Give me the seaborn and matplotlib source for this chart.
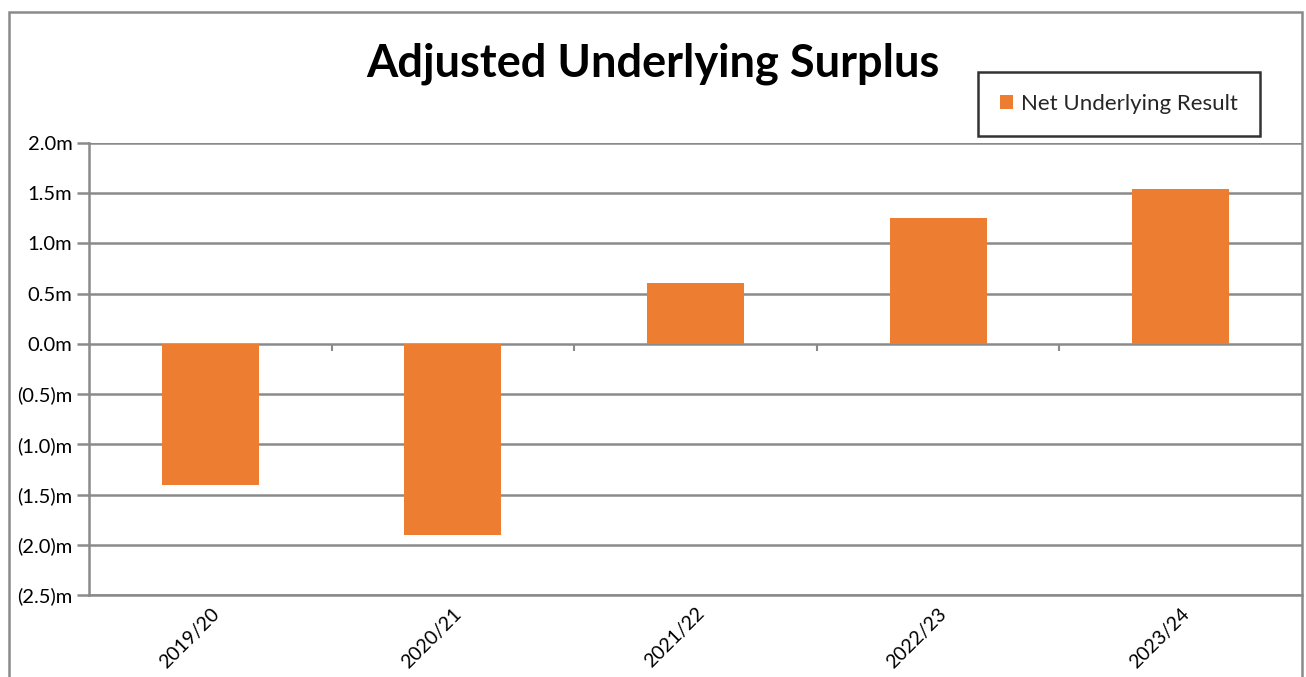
import matplotlib
matplotlib.use("Agg")
import matplotlib.pyplot as plt
import seaborn as sns
import pandas as pd
from matplotlib.patches import Rectangle, Patch

categories = ["2019/20", "2020/21", "2021/22", "2022/23", "2023/24"]
values = [-1.40, -1.90, 0.61, 1.25, 1.54]
series_name = "Net Underlying Result"
title = "Adjusted Underlying Surplus"
y_ticks = [2.0, 1.5, 1.0, 0.5, 0.0, -0.5, -1.0, -1.5, -2.0, -2.5]

sns.set_theme(style="white")
plt.rcParams["font.family"] = ["Lato", "DejaVu Sans"]

ORANGE = "#ED7D31"
GRID = "#8A8A8A"

df = pd.DataFrame({"year": categories, "value": values})

fig = plt.figure(figsize=(13.06, 6.77), dpi=100)
ax = fig.add_axes([89/1306, 1-595/677, (1302-89)/1306, (595-143)/677])

sns.barplot(data=df, x="year", y="value", color=ORANGE, width=0.4,
            saturation=1, ax=ax, edgecolor="none")

ax.set_xlim(-0.5, 4.5)
ax.set_ylim(-2.5, 2.0)
ax.set_yticks(y_ticks)

def fmt(v):
    if v < 0:
        return f"({abs(v):.1f})m"
    return f"{v:.1f}m"

ax.set_yticklabels([fmt(v) for v in y_ticks], fontsize=14.5, color="black")
ax.yaxis.grid(True, color=GRID, linewidth=1.8)
ax.set_axisbelow(True)
ax.tick_params(axis="y", direction="out", length=9, width=1.8, color=GRID, pad=3, left=True)
ax.set_xlabel("")
ax.set_ylabel("")

ax.set_xticks(range(len(categories)))
ax.set_xticklabels(categories, rotation=45, ha="right", rotation_mode="anchor",
                   fontsize=14, color="black")
ax.tick_params(axis="x", length=0, pad=7)

for s in ["top", "right"]:
    ax.spines[s].set_visible(False)
ax.spines["left"].set_color(GRID)
ax.spines["left"].set_linewidth(1.8)
ax.spines["bottom"].set_color(GRID)
ax.spines["bottom"].set_linewidth(1.8)

# small ticks on the zero line at category boundaries
sec = ax.secondary_xaxis(2.5/4.5)
sec.set_xticks([0.5, 1.5, 2.5, 3.5])
sec.set_xticklabels([])
sec.xaxis.set_ticks_position("bottom")
sec.tick_params(direction="out", length=5, width=1.5, color=GRID)
for s in sec.spines.values():
    s.set_visible(False)

fig.text(653/1306, 1-64/677, title, ha="center", va="center",
         fontsize=32.5, fontweight="bold", color="black")

leg = fig.legend(handles=[Patch(facecolor=ORANGE, edgecolor="none", label=series_name)],
                 loc="center", bbox_to_anchor=(1119/1306, 1-104/677),
                 frameon=True, fancybox=False, fontsize=16, handlelength=0.6,
                 handleheight=0.6, handletextpad=0.35, borderpad=1.0,
                 borderaxespad=0)
leg.get_frame().set_edgecolor("black")
leg.get_frame().set_linewidth(1.8)

fig.patches.append(Rectangle((9/1306, -0.05), (1302-9)/1306, 1.05-12/677,
                             transform=fig.transFigure, fill=False,
                             edgecolor=GRID, linewidth=1.8))

fig.savefig("out.png", dpi=100)
